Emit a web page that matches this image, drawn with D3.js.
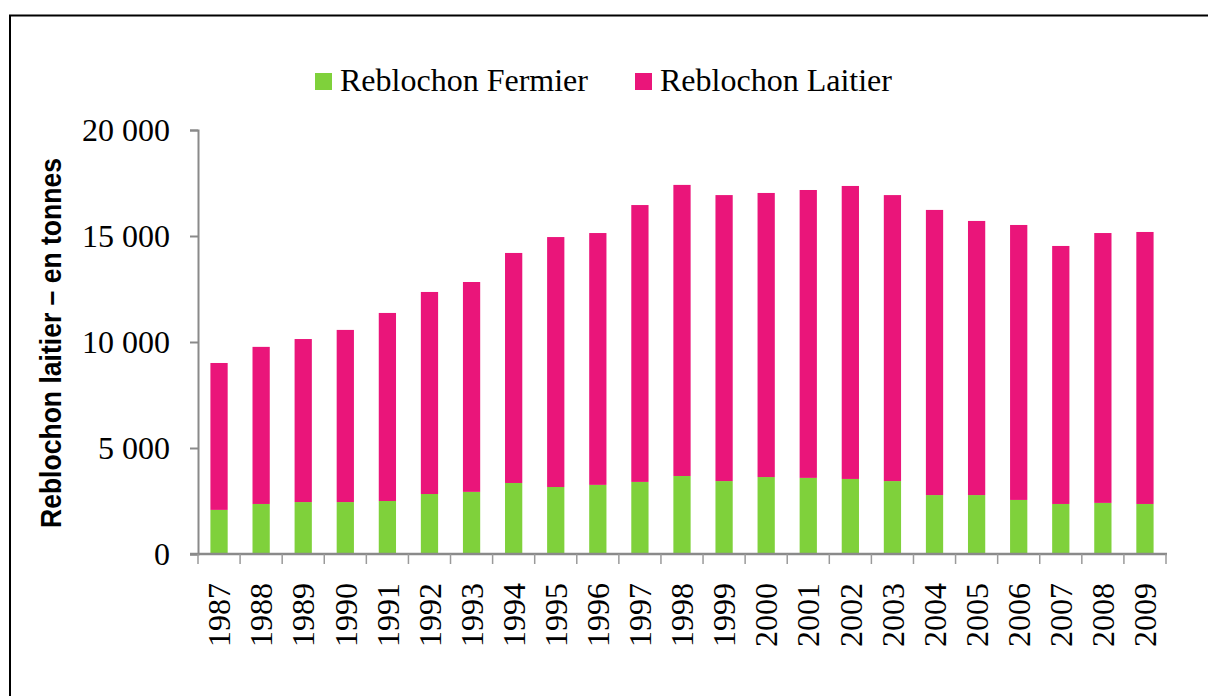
<!DOCTYPE html>
<html>
<head>
<meta charset="utf-8">
<script src="https://cdn.jsdelivr.net/npm/d3@7"></script>
<style>
  html, body { margin: 0; padding: 0; background: #fff; }
  svg { display: block; }
</style>
</head>
<body>
<svg id="chart" width="1208" height="696"></svg>
<script>
// Production de Reblochon (tonnes), 1987–2009
const years = ["1987","1988","1989","1990","1991","1992","1993","1994","1995","1996","1997","1998",
               "1999","2000","2001","2002","2003","2004","2005","2006","2007","2008","2009"];
const fermier = [2080,2360,2450,2450,2500,2830,2930,3350,3160,3260,3400,3680,
                 3440,3630,3590,3540,3440,2780,2780,2550,2360,2410,2360];
const laitier = [6930,7410,7690,8120,8870,9530,9900,10850,11790,11880,13060,13730,
                 13490,13400,13580,13820,13490,13450,12930,12970,12170,12730,12830];
const seriesNames = ["Reblochon Fermier", "Reblochon Laitier"];
const seriesKeys = ["fermier", "laitier"];
const seriesColors = ["#7fd13b", "#ea157a"];
const yTicks = [0, 5000, 10000, 15000, 20000];
const yTitle = "Reblochon laitier – en tonnes";

const svg = d3.select("#chart");
const serif = "'Liberation Serif', 'Times New Roman', serif";
const serifSize = 32;

// outer frame
svg.append("rect")
  .attr("x", 10).attr("y", 15.5)
  .attr("width", 1230).attr("height", 720)
  .attr("fill", "none").attr("stroke", "#000").attr("stroke-width", 2);

const plotLeft = 198, plotRight = 1166, plotTop = 130, plotBottom = 554;

const rows = years.map((y, i) => ({ year: y, fermier: fermier[i], laitier: laitier[i] }));
const stack = d3.stack().keys(seriesKeys)(rows);

const x = d3.scaleBand().domain(years).range([plotLeft, plotRight])
  .paddingInner(0.59).paddingOuter(0.295);
const xEdge = d3.scaleBand().domain(years).range([plotLeft, plotRight]).padding(0);
const y = d3.scaleLinear().domain([0, 20000]).range([plotBottom, plotTop]);

const locale = d3.formatLocale({ decimal: ",", thousands: " ", grouping: [3], currency: ["", " €"] });
const fmt = locale.format(",d");

// bars
svg.append("g").selectAll("g")
  .data(stack)
  .join("g")
  .attr("fill", (d, i) => seriesColors[i])
  .selectAll("rect")
  .data(d => d)
  .join("rect")
  .attr("x", d => x(d.data.year))
  .attr("width", x.bandwidth())
  .attr("y", d => y(d[1]))
  .attr("height", d => y(d[0]) - y(d[1]));

// y axis
const yAxis = svg.append("g")
  .attr("transform", `translate(${plotLeft},0)`)
  .call(d3.axisLeft(y).tickValues(yTicks).tickFormat(fmt).tickSize(8).tickPadding(20));
yAxis.select(".domain").attr("stroke", "#8a8a8a").attr("stroke-width", 2);
yAxis.selectAll(".tick line").attr("stroke", "#8a8a8a").attr("stroke-width", 2);
yAxis.selectAll(".tick text")
  .attr("font-family", serif).attr("font-size", serifSize).attr("fill", "#000")
  .attr("dy", "0.34em");

// x axis line and ticks at category boundaries
const xAxis = svg.append("g");
xAxis.append("line")
  .attr("x1", plotLeft - 8).attr("x2", plotRight + 1)
  .attr("y1", plotBottom).attr("y2", plotBottom)
  .attr("stroke", "#8a8a8a").attr("stroke-width", 2.5);
const edges = years.map(d => xEdge(d)).concat([xEdge(years[years.length - 1]) + xEdge.bandwidth()]);
xAxis.selectAll("line.tk")
  .data(edges)
  .join("line")
  .attr("class", "tk")
  .attr("x1", d => d).attr("x2", d => d)
  .attr("y1", plotBottom).attr("y2", plotBottom + 10)
  .attr("stroke", "#9a9a9a").attr("stroke-width", 1.5);
xAxis.selectAll("text")
  .data(years)
  .join("text")
  .attr("transform", d => `translate(${xEdge(d) + xEdge.bandwidth() / 2},583) rotate(-90)`)
  .attr("text-anchor", "end")
  .attr("dy", "0.35em")
  .attr("font-family", serif).attr("font-size", serifSize).attr("fill", "#000")
  .text(d => d);

// y axis title
svg.append("text")
  .attr("transform", "translate(61,343) rotate(-90)")
  .attr("text-anchor", "middle")
  .attr("font-family", "'Liberation Sans Narrow', 'Liberation Sans', Arial, sans-serif")
  .attr("font-weight", "bold")
  .attr("font-size", 30)
  .attr("textLength", 370)
  .attr("lengthAdjust", "spacingAndGlyphs")
  .attr("fill", "#000")
  .text(yTitle);

// legend
const legendX = [315, 635];
const legend = svg.append("g").selectAll("g")
  .data(seriesNames)
  .join("g")
  .attr("transform", (d, i) => `translate(${legendX[i]},0)`);
legend.append("rect")
  .attr("x", 0).attr("y", 73).attr("width", 17).attr("height", 17)
  .attr("fill", (d, i) => seriesColors[i]);
legend.append("text")
  .attr("x", 25).attr("y", 91)
  .attr("font-family", serif).attr("font-size", serifSize).attr("fill", "#000")
  .text(d => d);
</script>
</body>
</html>
